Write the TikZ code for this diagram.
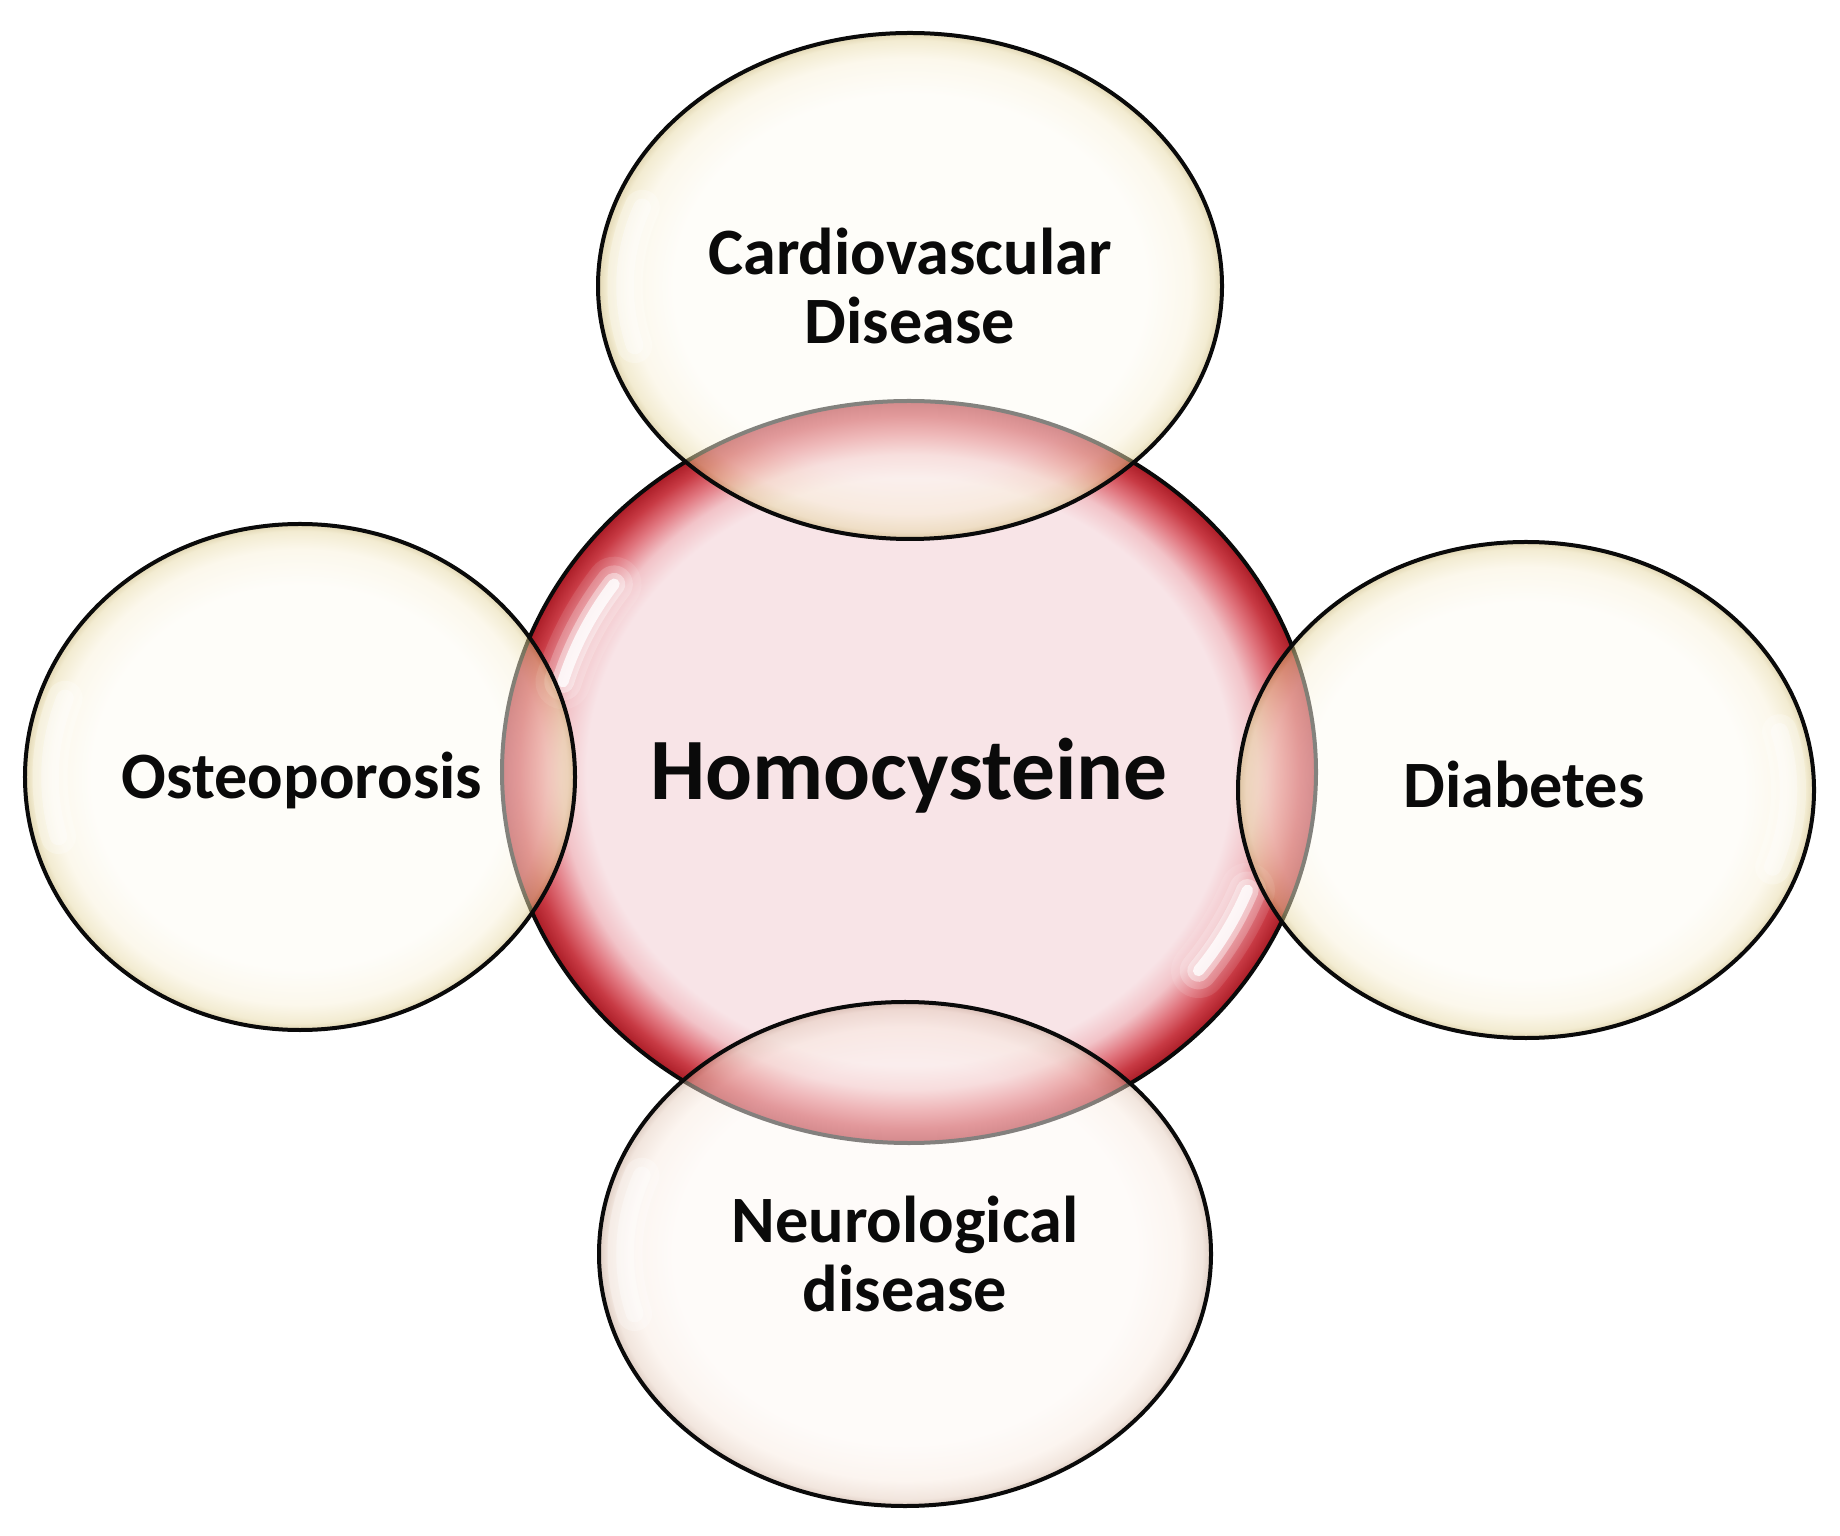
\documentclass[tikz,border=0pt]{standalone}
\usepackage{fontspec}
\setmainfont{Carlito}
\usetikzlibrary{shapes.geometric}
\definecolor{crA}{RGB}{253,251,243}
\definecolor{crB}{RGB}{249,241,217}
\definecolor{crC}{RGB}{231,217,165}
\definecolor{crD}{RGB}{195,173,101}
\definecolor{nrA}{RGB}{253,247,243}
\definecolor{nrB}{RGB}{249,235,225}
\definecolor{nrC}{RGB}{229,205,189}
\definecolor{nrD}{RGB}{189,155,135}
\definecolor{rdA}{RGB}{248,228,231}
\definecolor{rdB}{RGB}{242,195,200}
\definecolor{rdC}{RGB}{225,118,127}
\definecolor{rdD}{RGB}{200,58,68}
\definecolor{rdE}{RGB}{170,28,38}
\definecolor{ink}{RGB}{10,10,10}
\pgfdeclareradialshading{creamball}{\pgfpoint{0bp}{0bp}}{color(0bp)=(crA); color(19bp)=(crA); color(22.5bp)=(crB); color(24.3bp)=(crC); color(25bp)=(crD); color(50bp)=(crD)}
\pgfdeclareradialshading{neuroball}{\pgfpoint{0bp}{0bp}}{color(0bp)=(nrA); color(19bp)=(nrA); color(22.5bp)=(nrB); color(24.3bp)=(nrC); color(25bp)=(nrD); color(50bp)=(nrD)}
\pgfdeclareradialshading{redball}{\pgfpoint{0bp}{0bp}}{color(0bp)=(rdA); color(19.8bp)=(rdA); color(21.4bp)=(rdB); color(22.8bp)=(rdC); color(24bp)=(rdD); color(25bp)=(rdE); color(50bp)=(rdE)}
\tikzset{
  bubble/.style={ellipse, draw=ink, line width=1.6pt, inner sep=0pt, outer sep=0pt,
    fill opacity=0.5, text opacity=1, align=center, text=ink,
    font=\fontsize{26.5}{27.5}\selectfont\bfseries},
  creambubble/.style={bubble, shading=creamball},
  neurobubble/.style={bubble, shading=neuroball},
  hub/.style={ellipse, draw=ink, line width=1.6pt, inner sep=0pt, outer sep=0pt,
    shading=redball},
  label/.style={text=ink, inner sep=0pt, font=\fontsize{26.5}{27.5}\selectfont\bfseries},
  glossA/.style={draw=white, line cap=round, line width=22pt, draw opacity=0.10},
  glossB/.style={draw=white, line cap=round, line width=15pt, draw opacity=0.2},
  glossC/.style={draw=white, line cap=round, line width=9pt, draw opacity=0.4},
  glossD/.style={draw=white, line cap=round, line width=4.5pt, draw opacity=0.8},
  softA/.style={draw=white, line cap=round, line width=14pt, draw opacity=0.25},
  softB/.style={draw=white, line cap=round, line width=7pt, draw opacity=0.35}
}
\begin{document}
\begin{tikzpicture}[x=0.4pt, y=0.4pt]
\useasboundingbox (0,0) rectangle (1840,1535);
% central hub
\node[hub, minimum width=325.6pt, minimum height=296.8pt] (hcy) at (909,763) {};
% gloss highlights on the hub
\foreach \g in {glossA,glossB,glossC,glossD}{
  \draw[\g] (hcy.center) ++(145:144pt and 131pt) arc[start angle=145, end angle=164, x radius=144pt, y radius=131pt];
  \draw[\g] (hcy.center) ++(-37:145pt and 132pt) arc[start angle=-37, end angle=-21, x radius=145pt, y radius=132pt];
}
\node[font=\fontsize{35}{40}\selectfont\bfseries, text=ink, inner sep=0pt] (hlabel) at (909,759) {Homocysteine};
% satellites
\node[creambubble, minimum width=249.6pt, minimum height=202.4pt] (cvd) at (910,1249) {Cardiovascular\\Disease};
\node[creambubble, minimum width=220pt, minimum height=202.4pt] (ost) at (300,758) {};
\node[creambubble, minimum width=230.4pt, minimum height=198.4pt] (dia) at (1526,745) {};
\node[neurobubble, minimum width=244.8pt, minimum height=201.6pt] (neu) at (905,281) {Neurological\\disease};
% soft gloss on satellites
\foreach \g in {softA,softB}{
  \draw[\g] (ost.center) ++(160:100pt and 92pt) arc[start angle=160, end angle=195, x radius=100pt, y radius=92pt];
  \draw[\g] (cvd.center) ++(160:114pt and 92pt) arc[start angle=160, end angle=195, x radius=114pt, y radius=92pt];
  \draw[\g] (neu.center) ++(160:112pt and 92pt) arc[start angle=160, end angle=195, x radius=112pt, y radius=92pt];
  \draw[\g] (dia.center) ++(-20:105pt and 90pt) arc[start angle=-20, end angle=15, x radius=105pt, y radius=90pt];
}
\node[label] (olabel) at (302,755) {Osteoporosis};
\node[label] (dlabel) at (1524,750) {Diabetes};
\end{tikzpicture}
\end{document}
